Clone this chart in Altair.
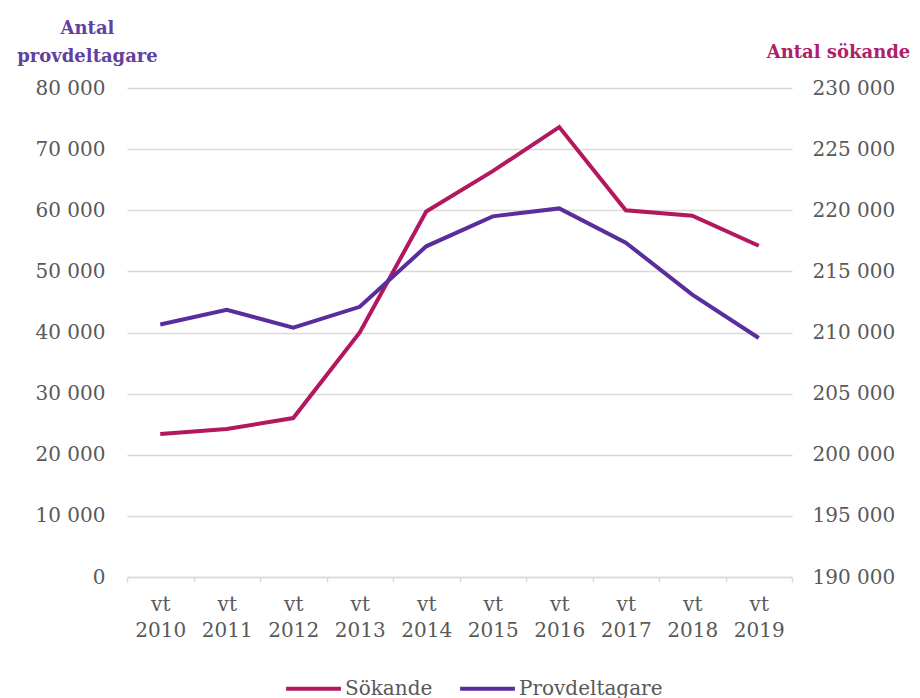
import altair as alt
import pandas as pd

years = ["vt 2010", "vt 2011", "vt 2012", "vt 2013", "vt 2014",
         "vt 2015", "vt 2016", "vt 2017", "vt 2018", "vt 2019"]
provdeltagare = [41300, 43700, 40800, 44200, 54100, 59000, 60300, 54700, 46200, 39100]
sokande = [201700, 202100, 203000, 210000, 219900, 223200, 226800, 220000, 219550, 217100]
series = ["Sökande", "Provdeltagare"]
colors = ["#b3175e", "#5a2d9c"]
left_ticks = [0, 10000, 20000, 30000, 40000, 50000, 60000, 70000, 80000]
right_ticks = [190000, 195000, 200000, 205000, 210000, 215000, 220000, 225000, 230000]

rows = []
for i, y in enumerate(years):
    rows.append({"year": y, "series": "Provdeltagare", "value": provdeltagare[i]})
    rows.append({"year": y, "series": "Sökande", "value": sokande[i]})
df = pd.DataFrame(rows)

FONT = "DejaVu Serif"
GRID = "#d9d9d9"
LABEL = "#595959"
num_expr = "replace(format(datum.value, ','), ',', ' ')"

x_enc = alt.X(
    "year:N",
    sort=years,
    bandPosition=0.5,
    scale=alt.Scale(type="band", paddingInner=0, paddingOuter=0),
    axis=alt.Axis(
        title=None, labelAngle=0, labelExpr="split(datum.label, ' ')",
        labelFont=FONT, labelFontSize=20, labelColor=LABEL, labelLineHeight=26,
        labelPadding=12, domainColor=GRID, domainWidth=1.5, tickColor=GRID,
        tickWidth=1.5, tickSize=5, tickBand="extent", grid=False,
    ),
)

color_enc = alt.Color(
    "series:N",
    scale=alt.Scale(domain=series, range=colors),
    legend=alt.Legend(
        title=None, orient="none", direction="horizontal", legendX=157, legendY=571,
        symbolType="stroke", symbolSize=3000, symbolStrokeWidth=4,
        labelFont=FONT, labelFontSize=20, labelColor=LABEL, labelOffset=2,
        columnPadding=19, columns=2,
    ),
)

left = alt.Chart(df).transform_filter(alt.datum.series == "Provdeltagare").mark_line(
    strokeWidth=4
).encode(
    x=x_enc,
    y=alt.Y(
        "value:Q",
        scale=alt.Scale(domain=[0, 80000], nice=False, zero=False),
        axis=alt.Axis(
            orient="left", values=left_ticks, labelExpr=num_expr,
            title=["Antal", "provdeltagare"], titleAngle=0, titleAlign="center",
            titleBaseline="alphabetic", titleX=-40, titleY=-55, titleFont=FONT,
            titleFontSize=18, titleFontWeight="bold", titleColor="#6240a0",
            titleLineHeight=28,
            labelFont=FONT, labelFontSize=20, labelColor=LABEL, labelPadding=22,
            domain=False, ticks=False, grid=True, gridColor=GRID, gridWidth=1.5,
        ),
    ),
    color=color_enc,
)

right = alt.Chart(df).transform_filter(alt.datum.series == "Sökande").mark_line(
    strokeWidth=4
).encode(
    x=x_enc,
    y=alt.Y(
        "value:Q",
        scale=alt.Scale(domain=[190000, 230000], nice=False, zero=False),
        axis=alt.Axis(
            orient="right", values=right_ticks, labelExpr=num_expr,
            title="Antal sökande", titleAngle=0, titleAlign="center",
            titleBaseline="alphabetic", titleX=46, titleY=-31, titleFont=FONT,
            titleFontSize=18, titleFontWeight="bold", titleColor="#b0206a",
            labelFont=FONT, labelFontSize=20, labelColor=LABEL, labelPadding=20,
            domain=False, ticks=False, grid=False,
        ),
    ),
    color=color_enc,
)

chart = alt.layer(right, left).resolve_scale(y="independent").properties(
    width=665, height=489,
    autosize=alt.AutoSizeParams(type="none"),
    padding={"left": 119, "top": 80, "right": 120, "bottom": 125},
    background="white",
).configure_view(stroke=None)

chart.save("out.html", embed_options={"renderer": "svg", "actions": False})
